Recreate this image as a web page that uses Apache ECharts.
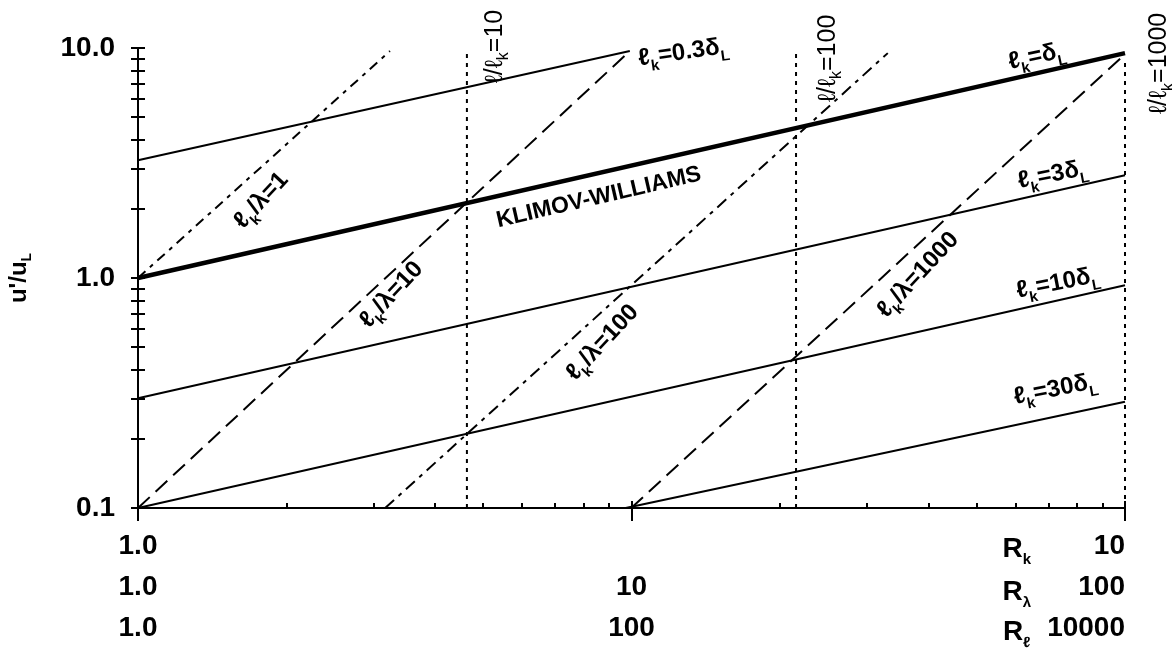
<!DOCTYPE html>
<html><head><meta charset="utf-8">
<script src="https://cdn.jsdelivr.net/npm/echarts@6/dist/echarts.min.js"></script>
<style>html,body{margin:0;padding:0;background:#fff}#c{width:1172px;height:649px}</style>
</head><body><div id="c"></div>
<script>
// x = R_k, y = u'/u_L
const lineDelta = [[1, 1.0], [10, 9.5]];      // l_k = delta_L (Klimov-Williams)
const line03 = [[1, 3.25], [3.15, 9.7]];      // l_k = 0.3 delta_L
const line3 = [[1, 0.30], [10, 2.8]];         // l_k = 3 delta_L
const line10 = [[1, 0.10], [10, 0.93]];       // l_k = 10 delta_L
const line30 = [[3.12, 0.10], [10, 0.29]];    // l_k = 30 delta_L
const lam1 = [[1, 1.0], [1.80, 9.7]];         // l_k/lambda = 1
const lam10 = [[1, 0.10], [3.15, 9.7]];       // l_k/lambda = 10
const lam100 = [[1.78, 0.10], [5.75, 9.5]];   // l_k/lambda = 100
const lam1000 = [[3.16, 0.10], [10, 9.4]];    // l_k/lambda = 1000
const vl10 = [[2.154, 0.1], [2.154, 9.7]];    // l/l_k = 10
const vl100 = [[4.642, 0.1], [4.642, 9.5]];   // l/l_k = 100
const vl1000 = [[10, 0.1], [10, 8.8]];        // l/l_k = 1000

const yTickValues = [0.1,0.2,0.3,0.4,0.5,0.6,0.7,0.8,0.9,1,2,3,4,5,6,7,8,9,10];
const yLabelValues = [0.1, 1, 10];
const rkLabelValues = [1, 10];
const rlamLabelValues = [1, 10, 100];
const rlLabelValues = [1, 100, 10000];
const rlamMinorTicks = [2,3,4,5,6,7,8,9,20,30,40,50,60,70,80,90];

const F = "'Liberation Sans', Arial, sans-serif";
const rich = {
  b: {fontFamily:F, fontWeight:'bold', fontSize:24, color:'#000', lineHeight:34, verticalAlign:'middle'},
  s: {fontFamily:F, fontWeight:'bold', fontSize:15, color:'#000', verticalAlign:'bottom'},
  w: {fontFamily:F, fontWeight:'bold', fontSize:23, color:'#000', lineHeight:30, verticalAlign:'middle'},
  n: {fontFamily:F, fontSize:25, color:'#000', lineHeight:34, verticalAlign:'middle'},
  ns: {fontFamily:F, fontSize:16, color:'#000', verticalAlign:'bottom'},
  r: {fontFamily:F, fontWeight:'bold', fontSize:28, color:'#000', lineHeight:36, verticalAlign:'middle'},
  rs: {fontFamily:F, fontWeight:'bold', fontSize:15, color:'#000', verticalAlign:'bottom'}
};

const annotations = [
  {t:'{b|ℓ}{s|k}{b|=0.3δ}{s|L}', x:3.57, y:9.56, r:8},
  {t:'{b|ℓ}{s|k}{b|=δ}{s|L}', x:8.14, y:9.19, r:12},
  {t:'{b|ℓ}{s|k}{b|=3δ}{s|L}', x:8.45, y:2.81, r:11},
  {t:'{b|ℓ}{s|k}{b|=10δ}{s|L}', x:8.55, y:0.95, r:11},
  {t:'{b|ℓ}{s|k}{b|=30δ}{s|L}', x:8.50, y:0.328, r:11},
  {t:'{w|KLIMOV-WILLIAMS}', x:2.93, y:2.24, r:13},
  {t:'{b|ℓ}{s|k}{b|/λ=1}', x:1.333, y:2.17, r:47},
  {t:'{b|ℓ}{s|k}{b|/λ=10}', x:1.806, y:0.845, r:47},
  {t:'{b|ℓ}{s|k}{b|/λ=100}', x:2.955, y:0.524, r:47},
  {t:'{b|ℓ}{s|k}{b|/λ=1000}', x:6.17, y:1.03, r:47},
  {t:'{n|ℓ/ℓ}{ns|k}{n|=10}', x:2.30, y:10.15, r:90},
  {t:'{n|ℓ/ℓ}{ns|k}{n|=100}', x:5.0, y:9.01, r:90},
  {t:'{n|ℓ/ℓ}{ns|k}{n|=1000}', x:10.83, y:8.57, r:90},
  {t:'{r|R}{rs|k}', x:7.77, y:0.0660, r:0},
  {t:'{r|R}{rs|λ}', x:7.77, y:0.0430, r:0},
  {t:'{r|R}{rs|ℓ}', x:7.77, y:0.0287, r:0}
];

function ln(data, width, type) {
  return {type:'line', data:data, symbol:'none', silent:true, clip:false,
    xAxisIndex:0, yAxisIndex:0,
    lineStyle:{color:'#000', width:width, type:type||'solid', cap:'butt'}};
}
const tickLine = {color:'#000', width:2};
const lblFmt = v => (Math.abs(v-1) < 1e-9 ? '1.0' : String(Math.round(v)));
const axBase = {type:'log', logBase:10, position:'bottom', offset:0, splitLine:{show:false}, axisLine:{show:false}};
const lblStyle = {fontFamily:F, fontWeight:'bold', fontSize:28, color:'#000'};

const chart = echarts.init(document.getElementById('c'), null, {renderer:'canvas'});
chart.setOption({
  animation:false,
  backgroundColor:'#fff',
  grid:{left:138, right:47, top:48, bottom:141, outerBoundsMode:'none', containLabel:false},
  xAxis:[
    Object.assign({}, axBase, {min:1, max:10,
      axisLine:{show:true, lineStyle:{color:'#000', width:2}},
      axisTick:{show:true, inside:true, length:7, customValues:[3.1623, 10], lineStyle:tickLine},
      axisLabel:{show:true, customValues:rkLabelValues, formatter:lblFmt, margin:24, alignMaxLabel:'right', ...lblStyle}}),
    Object.assign({}, axBase, {min:1, max:100,
      axisTick:{show:true, inside:true, length:5, customValues:rlamMinorTicks, lineStyle:tickLine},
      axisLabel:{show:true, customValues:rlamLabelValues, formatter:lblFmt, margin:65, alignMaxLabel:'right', ...lblStyle}}),
    Object.assign({}, axBase, {min:1, max:10000,
      axisTick:{show:true, inside:false, length:13, customValues:[1, 100, 10000], lineStyle:tickLine},
      axisLabel:{show:true, customValues:rlLabelValues, formatter:lblFmt, margin:106, alignMaxLabel:'right', ...lblStyle}})
  ],
  yAxis:[
    {type:'log', logBase:10, min:0.1, max:10, position:'left', offset:0, splitLine:{show:false},
      axisLine:{show:true, lineStyle:{color:'#000', width:2}},
      axisTick:{show:true, inside:true, length:7, customValues:yTickValues, lineStyle:tickLine},
      axisLabel:{show:true, customValues:yLabelValues, formatter:v => Number(v).toFixed(1), margin:23, ...lblStyle},
      name:"{y|u'/u}{ys|L}", nameLocation:'middle', nameGap:104, nameRotate:90,
      nameTextStyle:{rich:{
        y:{fontFamily:F, fontWeight:'bold', fontSize:24, color:'#000', lineHeight:30, verticalAlign:'middle'},
        ys:{fontFamily:F, fontWeight:'bold', fontSize:14, color:'#000', verticalAlign:'bottom'}}}},
    {type:'log', logBase:10, min:0.1, max:10, position:'left', offset:0, splitLine:{show:false},
      axisLine:{show:false},
      axisTick:{show:true, inside:false, length:7, customValues:yTickValues, lineStyle:tickLine},
      axisLabel:{show:false}}
  ],
  series:[
    ln(line03, 2), ln(lineDelta, 4.5), ln(line3, 2), ln(line10, 2), ln(line30, 2),
    ln(lam1, 2, [10,6,4,6]), ln(lam10, 2, [16,8]), ln(lam100, 2, [12,6,4,6]), ln(lam1000, 2, [16,8]),
    ln(vl10, 2, [4,5]), ln(vl100, 2, [4,5]), ln(vl1000, 2, [4,5]),
    {type:'scatter', silent:true, clip:false, symbolSize:0, xAxisIndex:0, yAxisIndex:0,
      itemStyle:{color:'rgba(0,0,0,0)'},
      data: annotations.map(a => ({value:[a.x, a.y], label:{show:true, position:'inside', formatter:a.t, rotate:a.r, rich:rich,
        color:'#000', opacity:1, textBorderWidth:0, align:'center', verticalAlign:'middle'}}))}
  ]
});
</script></body></html>
